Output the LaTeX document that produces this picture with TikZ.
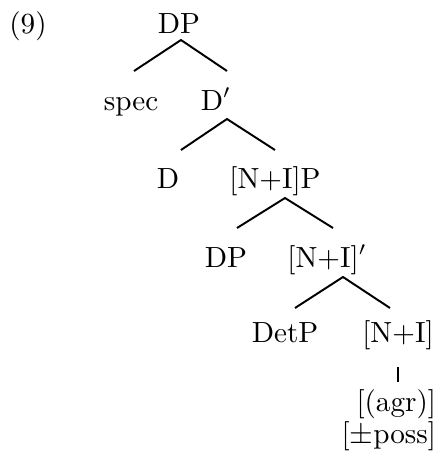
\documentclass[tikz,border=0pt]{standalone}
\usepackage{tikz}

\begin{document}
\begin{tikzpicture}[
  x=0.36pt,
  y=-0.36pt,
  line width=0.7pt,
  mylabel/.style={
    inner sep=0pt,
    anchor=base,
    font=\fontsize{10.5}{12}\selectfont
    },
  myfeat/.style={
    mylabel,
    anchor=base east
    }
]
\useasboundingbox (0,0) rectangle (443,471);

\node[mylabel] (exnum) at (28,33) {(9)};

\node[mylabel] (dp1)   at (179,33)  {DP};
\node[mylabel] (spec)  at (131,110) {spec};
\node[mylabel] (dbar)  at (216,110) {D$'$};
\node[mylabel] (d)     at (168,188) {D};
\node[mylabel] (nip)   at (275,188) {[N+I]P};
\node[mylabel] (dp2)   at (226,267) {DP};
\node[mylabel] (nibar) at (327,267) {[N+I]$'$};
\node[mylabel] (detp)  at (285,342) {DetP};
\node[mylabel] (ni)    at (398,342) {[N+I]};
\node[myfeat]  (agr)   at (437,411) {[(agr)]};
\node[myfeat]  (poss)  at (437,443) {[$\pm$poss]};

% branches
\draw ([shift={(3,-39)}]spec.base) -- ([shift={(2,7)}]dp1.base) -- ([shift={(11,-39)}]dbar.base);
\draw ([shift={(13,-38)}]d.base) -- ([shift={(11,9)}]dbar.base) -- ([shift={(0,-38)}]nip.base);
\draw ([shift={(11,-39)}]dp2.base) -- ([shift={(10,10)}]nip.base) -- ([shift={(6,-39)}]nibar.base);
\draw ([shift={(10,-34)}]detp.base) -- ([shift={(16,10)}]nibar.base) -- ([shift={(-8,-34)}]ni.base);
\draw ([shift={(0,25)}]ni.base) -- ([shift={(-39,-29)}]agr.base east);

\end{tikzpicture}
\end{document}
